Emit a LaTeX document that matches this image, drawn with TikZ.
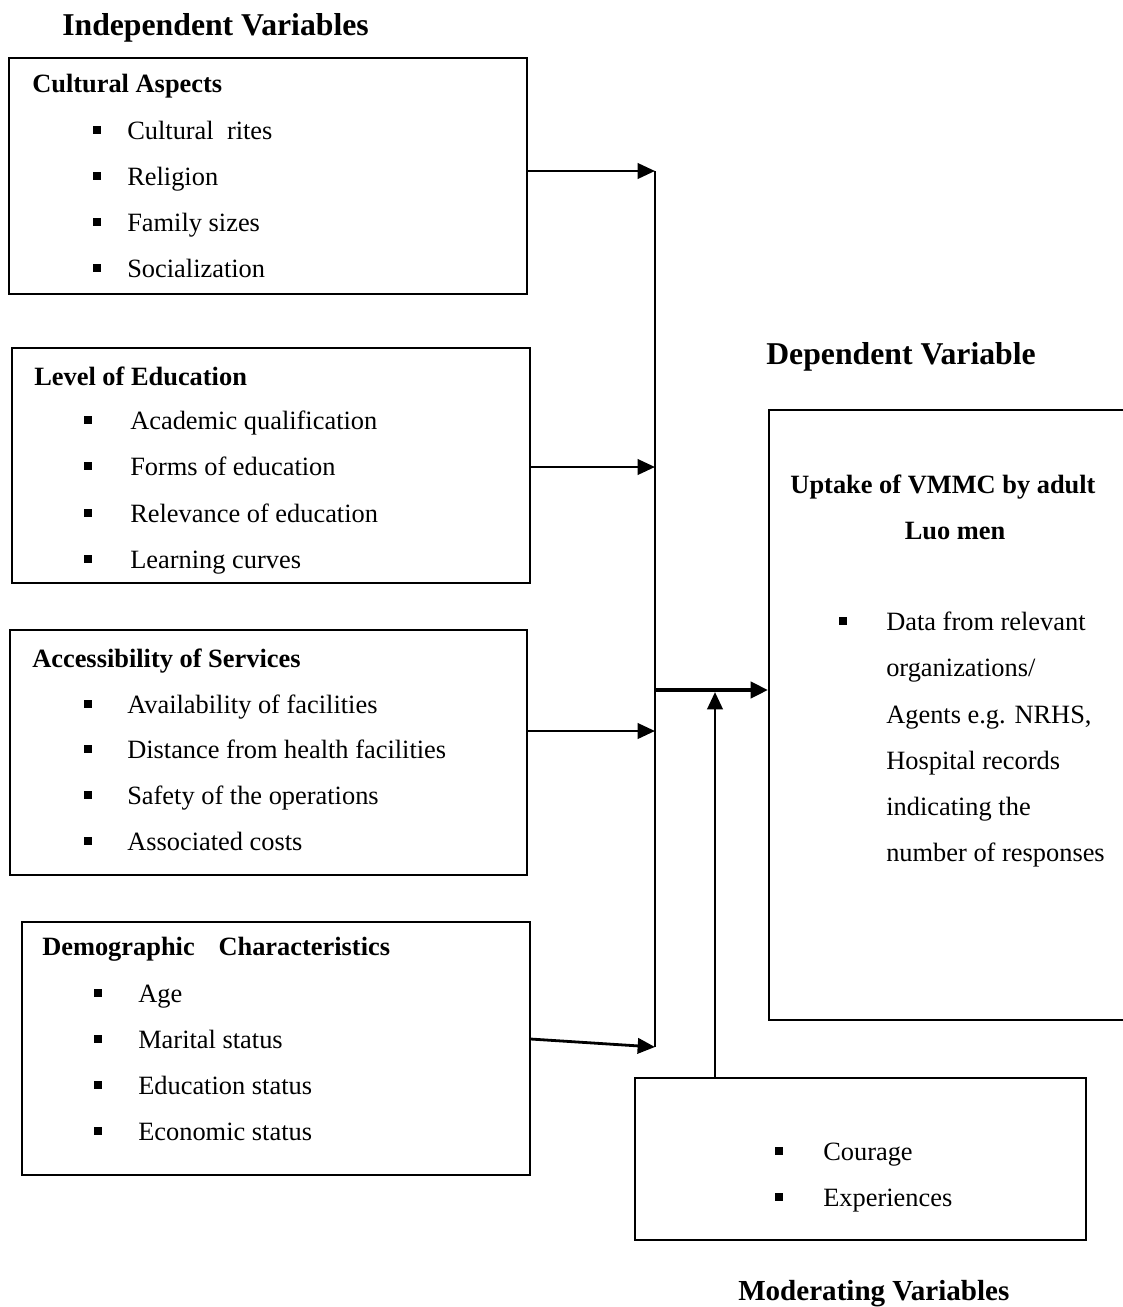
\documentclass[tikz,border=0pt]{standalone}
\usepackage{fontspec}
\setmainfont{Liberation Serif}
\usetikzlibrary{arrows.meta}
\newcommand\bodyfont{\fontsize{19.8pt}{24pt}\selectfont}
\newcommand\titlefont{\fontsize{23.8pt}{28pt}\selectfont\bfseries}
\newcommand\itm[5]{%
  \fill (#1-4,#3-4) rectangle ++(8,8);
  \node[txt] (#4) at (#2,#3+9) {#5};}
\tikzset{
  box/.style={draw, line width=1.5pt, rectangle, inner sep=0pt},
  txt/.style={anchor=base west, inner sep=0pt, font=\bodyfont},
  hd/.style={anchor=base west, inner sep=0pt, font=\bodyfont\bfseries},
  ttl/.style={anchor=base west, inner sep=0pt, font=\titlefont},
  arr/.style={line width=2.1pt, -{Triangle[length=13pt,width=11.5pt]}},
  arrbig/.style={line width=3pt, -{Triangle[length=13pt,width=12pt]}},
  bus/.style={line width=1.4pt},
}
\begin{document}
\begin{tikzpicture}[x=0.75pt,y=-0.75pt]
\useasboundingbox (0,0) rectangle (1123,1307);
% titles
\node[ttl] (tind) at (62,35) {Independent Variables};
\node[ttl] (tdep) at (766,364) {Dependent Variable};
\node[ttl, font=\fontsize{21.8pt}{26pt}\selectfont\bfseries] (tmod) at (738,1300) {Moderating Variables};
% boxes
\node[box, minimum width=388.5pt, minimum height=177pt] (b1) at (268,176) {};
\node[box, minimum width=388.5pt, minimum height=176.25pt] (b2) at (271,465.5) {};
\node[box, minimum width=387.75pt, minimum height=183.75pt] (b3) at (268.5,752.5) {};
\node[box, minimum width=381pt, minimum height=189.75pt] (b4) at (276,1048.5) {};
\node[box, minimum width=270.75pt, minimum height=457.5pt] (b5) at (949.5,715) {};
\node[box, minimum width=338.25pt, minimum height=121.5pt] (b6) at (860.5,1159) {};
% box 1
\node[hd] (h1) at (32,92) {Cultural Aspects};
\itm{97}{127}{130}{i11}{Cultural\ \ rites}
\itm{97}{127}{176}{i12}{Religion}
\itm{97}{127}{222}{i13}{Family sizes}
\itm{97}{127}{268}{i14}{Socialization}
% box 2
\node[hd] (h2) at (34,385) {Level of Education};
\itm{88}{130}{420}{i21}{Academic qualification}
\itm{88}{130}{466}{i22}{Forms of education}
\itm{88}{130}{513}{i23}{Relevance of education}
\itm{88}{130}{559}{i24}{Learning curves}
% box 3
\node[hd] (h3) at (32,667) {Accessibility of Services};
\itm{88}{127}{704}{i31}{Availability of facilities}
\itm{88}{127}{749}{i32}{Distance from health facilities}
\itm{88}{127}{795}{i33}{Safety of the operations}
\itm{88}{127}{841}{i34}{Associated costs}
% box 4
\node[hd] (h4) at (42,955) {Demographic\hspace{0.9em}Characteristics};
\itm{98}{138}{993}{i41}{Age}
\itm{98}{138}{1039}{i42}{Marital status}
\itm{98}{138}{1085}{i43}{Education status}
\itm{98}{138}{1131}{i44}{Economic status}
% box 5
\node[hd, anchor=base] (h5a) at (943,493) {Uptake of VMMC by adult};
\node[hd, anchor=base] (h5b) at (955,539) {Luo men};
\itm{843}{886}{621}{i51}{Data from relevant}
\node[txt] (i52) at (886,676) {organizations/};
\node[txt] (i53) at (886,723) {Agents e.g. NRHS,};
\node[txt] (i54) at (886,769) {Hospital records};
\node[txt] (i55) at (886,815) {indicating the};
\node[txt] (i56) at (886,861) {number of responses};
% box 6
\itm{779}{823}{1151}{i61}{Courage}
\itm{779}{823}{1197}{i62}{Experiences}
% junction coordinates
\coordinate (j1) at (655,171);
\coordinate (j2) at (655,467);
\coordinate (j3) at (655,731);
\coordinate (j4) at (655,1047);
\coordinate (jm) at (655,690);
\coordinate (mx) at (715,690);
% connectors
\draw[bus] (j1) -- (j4);
\draw[arr] (b1.east |- j1) -- (j1);
\draw[arr] (b2.east |- j2) -- (j2);
\draw[arr] (b3.east |- j3) -- (j3);
\draw[arr] ([yshift=7.1pt]b4.east) -- (j4);
\draw[arrbig] (jm) -- (b5.west |- jm);
\draw[arr, shorten >=1.5pt] (b6.north -| mx) -- (mx);
\end{tikzpicture}
\end{document}
